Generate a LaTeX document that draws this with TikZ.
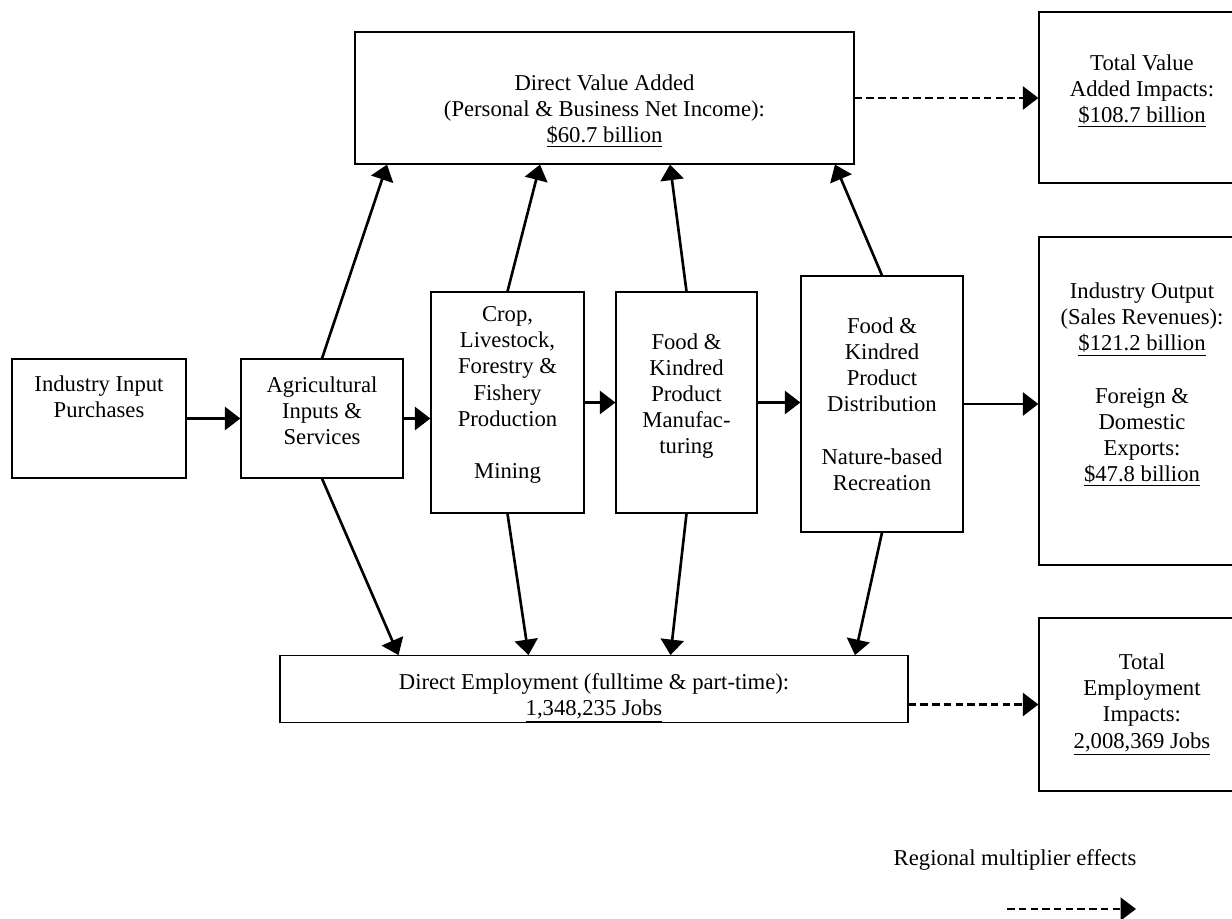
\documentclass[tikz,border=0pt]{standalone}
\usepackage{fontspec}
\setmainfont{Liberation Serif}
\usetikzlibrary{arrows.meta}

\begin{document}
\begin{tikzpicture}[x=0.02cm, y=-0.02cm]
        \tikzstyle{every node}=[font=\fontsize{12.9}{14.9}\selectfont, align=center]
        \tikzstyle{box}=[draw, line width=0.7pt, inner sep=0pt]
        \tikzstyle{flow}=[line width=1.5pt, -{Triangle[length=0.31cm, width=0.46cm]}]
        \tikzstyle{multiplier}=[flow, line width=1.3pt, dash pattern=on 0.15cm off 0.085cm]

        \useasboundingbox (0,0) rectangle (1232,919);
        \clip (0,0) rectangle (1232,919);

        % sectors
        \node (iip)   [box, minimum width=3.48cm, minimum height=2.38cm] at (99,418.5)  {Industry Input\\Purchases\\[10pt]};
        \node (ais)   [box, minimum width=3.24cm, minimum height=2.38cm] at (322,418.5) {Agricultural\\Inputs \&\\Services\\[-5.8pt]};
        \node (crop)  [box, minimum width=3.06cm, minimum height=4.42cm] at (507.5,402.5) {Crop,\\Livestock,\\Forestry \&\\Fishery\\Production\\[14.9pt]Mining\\[-3.6pt]};
        \node (manuf) [box, minimum width=2.82cm, minimum height=4.42cm] at (686.5,402.5) {Food \&\\Kindred\\Product\\Manufac-\\turing\\[-4.7pt]};
        \node (dist)  [box, minimum width=3.24cm, minimum height=5.12cm] at (882,404)   {Food \&\\Kindred\\Product\\Distribution\\[14.9pt]Nature-based\\Recreation};

        % direct effects
        \node (dva) [box, minimum width=9.98cm, minimum height=2.64cm] at (604.5,98) {\rule{0pt}{24pt}Direct Value Added\\(Personal \& Business Net Income):\\\underline{\$60.7 billion}};
        \node (de)  [box, minimum width=12.56cm, minimum height=1.32cm] at (594,689) {\rule{0pt}{19pt}Direct Employment (fulltime \& part-time):\\\underline{1,348,235 Jobs}};

        % totals
        \node (tva) [box, minimum width=4.12cm, minimum height=3.42cm] at (1142,97.5)  {Total Value\\Added Impacts:\\\underline{\$108.7 billion}\\[-4.7pt]};
        \node (io)  [box, minimum width=4.12cm, minimum height=6.56cm] at (1142,401)   {Industry Output\\(Sales Revenues):\\\underline{\$121.2 billion}\\[14.9pt]Foreign \&\\Domestic\\Exports:\\\underline{\$47.8 billion}\\[6.6pt]};
        \node (te)  [box, minimum width=4.12cm, minimum height=3.46cm] at (1142,704.5) {Total\\Employment\\Impacts:\\\underline{2,008,369 Jobs}};

        \draw[flow] (iip) -- (ais);
        \draw[flow] (ais.east) -- (ais.east -| crop.west);
        \draw[flow] (crop) -- (manuf);
        \draw[flow] (manuf.east) -- (manuf.east -| dist.west);
        \draw[flow] (dist.east) -- (dist.east -| io.west);

        \draw[flow] (ais.north) -- ([xshift=-4.35cm]dva.south);
        \draw[flow] (crop.north) -- ([xshift=-1.29cm]dva.south);
        \draw[flow] (manuf.north) -- ([xshift=1.31cm]dva.south);
        \draw[flow] (dist.north) -- ([xshift=4.61cm]dva.south);

        \draw[flow] (ais.south) -- ([xshift=-3.91cm]de.north);
        \draw[flow] (crop.south) -- ([xshift=-1.31cm]de.north);
        \draw[flow] (manuf.south) -- ([xshift=1.53cm]de.north);
        \draw[flow] (dist.south) -- ([xshift=5.22cm]de.north);

        \draw[multiplier] (dva.east) -- (dva.east -| tva.west);
        \draw[multiplier] (de.east |- te.west) -- (te.west);

        % key
        \node (legend) at (1015,860) {Regional multiplier effects};
        \coordinate (key start) at (1007,909);
        \coordinate (key end) at (1136,909);
        \draw[multiplier] (key start) -- (key end);

    \end{tikzpicture}
\end{document}
